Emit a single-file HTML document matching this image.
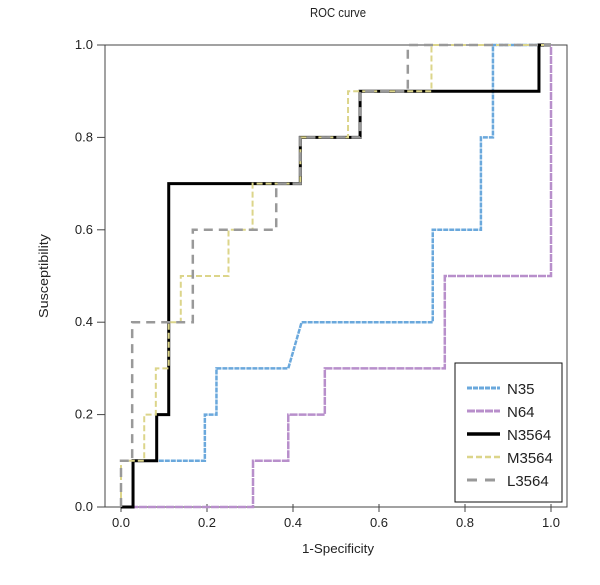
<!DOCTYPE html>
<html><head><meta charset="utf-8"><style>
body{margin:0;background:#fff}
svg text{font-family:"Liberation Sans",sans-serif;font-size:13px;fill:#222}
</style></head><body>
<svg width="600" height="580">
<text x="338" y="17" text-anchor="middle" style="font-size:13px" textLength="56" lengthAdjust="spacingAndGlyphs">ROC curve</text>
<rect x="105" y="45" width="462" height="462" fill="none" stroke="#444" stroke-width="1"/>
<g id="axes"></g>
<g id="series"></g>
<text x="338" y="553" text-anchor="middle" textLength="72" lengthAdjust="spacingAndGlyphs">1-Specificity</text>
<text transform="translate(48,276) rotate(-90)" text-anchor="middle" textLength="84" lengthAdjust="spacingAndGlyphs">Susceptibility</text>
<g>
<rect x="455" y="363" width="107" height="139" fill="#fff" stroke="#111" stroke-width="1"/>
<g id="legend"></g>
</g>
</svg>
<script>
const ticks=[0,0.2,0.4,0.6,0.8,1.0];
const tickLabels=["0.0","0.2","0.4","0.6","0.8","1.0"];
const seriesNames=["N35","N64","N3564","M3564","L3564"];
const n35X=[0,0.028,0.028,0.083,0.083,0.195,0.195,0.222,0.222,0.389,0.42,0.725,0.725,0.837,0.837,0.865,0.865,1];
const n35Y=[0,0,0.1,0.1,0.1,0.1,0.2,0.2,0.3,0.3,0.4,0.4,0.6,0.6,0.8,0.8,1,1];
const n64X=[0,0.307,0.307,0.389,0.389,0.474,0.474,0.753,0.753,1,1];
const n64Y=[0,0,0.1,0.1,0.2,0.2,0.3,0.3,0.5,0.5,1];
const n3564X=[0,0.028,0.028,0.083,0.083,0.111,0.111,0.417,0.417,0.556,0.556,0.972,0.972,1];
const n3564Y=[0,0,0.1,0.1,0.2,0.2,0.7,0.7,0.8,0.8,0.9,0.9,1,1];
const m3564X=[0,0,0.054,0.054,0.081,0.081,0.111,0.111,0.139,0.139,0.25,0.25,0.306,0.306,0.417,0.417,0.528,0.528,0.722,0.722,1];
const m3564Y=[0,0.1,0.1,0.2,0.2,0.3,0.3,0.4,0.4,0.5,0.5,0.6,0.6,0.7,0.7,0.8,0.8,0.9,0.9,1,1];
const l3564X=[0,0,0.026,0.026,0.167,0.167,0.361,0.361,0.417,0.417,0.556,0.556,0.667,0.667,1];
const l3564Y=[0,0.1,0.1,0.4,0.4,0.6,0.6,0.7,0.7,0.8,0.8,0.9,0.9,1,1];
const sx=v=>121+v*430, sy=v=>507-v*462;
const NS="http://www.w3.org/2000/svg";
function mk(t,a,p){const e=document.createElementNS(NS,t);for(const k in a)e.setAttribute(k,a[k]);p.appendChild(e);return e;}
const axes=document.getElementById('axes');
ticks.forEach((t,i)=>{
 let l=mk('line',{x1:sx(t),x2:sx(t),y1:504,y2:512,stroke:'#444'},axes);
 
 
 let tx=mk('text',{x:sx(t),y:527,'text-anchor':'middle'},axes);tx.textContent=tickLabels[i];
 
 
 let l2=mk('line',{x1:97,x2:105,y1:sy(t),y2:sy(t),stroke:'#444'},axes);
 
 
 let ty=mk('text',{x:93,y:sy(t)+4,'text-anchor':'end'},axes);ty.textContent=tickLabels[i];
 
 
});
const styles=[
 {c:'#6aa8dc',w:2.5,d:'5,1'},
 {c:'#b88fcb',w:2.5,d:'8,1'},
 {c:'#000',w:3,d:''},
 {c:'#dcd58a',w:2,d:'6,3'},
 {c:'#999',w:2.5,d:'9,6'}];
const data=[[n35X,n35Y],[n64X,n64Y],[n3564X,n3564Y],[m3564X,m3564Y],[l3564X,l3564Y]];
const sg=document.getElementById('series');
data.forEach((d,i)=>{
 const pts=d[0].map((x,j)=>sx(x)+','+sy(d[1][j])).join(' ');
 const s=styles[i];
 const p=mk('polyline',{points:pts,fill:'none',stroke:s.c,'stroke-width':s.w,'stroke-dasharray':s.d},sg);
 
 
});
const lg=document.getElementById('legend');
seriesNames.forEach((n,i)=>{
 const y=388+i*23, s=styles[i];
 const ln=mk('line',{x1:467,x2:500,y1:y,y2:y,stroke:s.c,'stroke-width':s.w+0.5,'stroke-dasharray':i==4?'10,8':s.d},lg);
 
 
 const t=mk('text',{x:507,y:y+6,style:'font-size:15px'},lg);t.textContent=n;
 
 
});
</script>
</body></html>
